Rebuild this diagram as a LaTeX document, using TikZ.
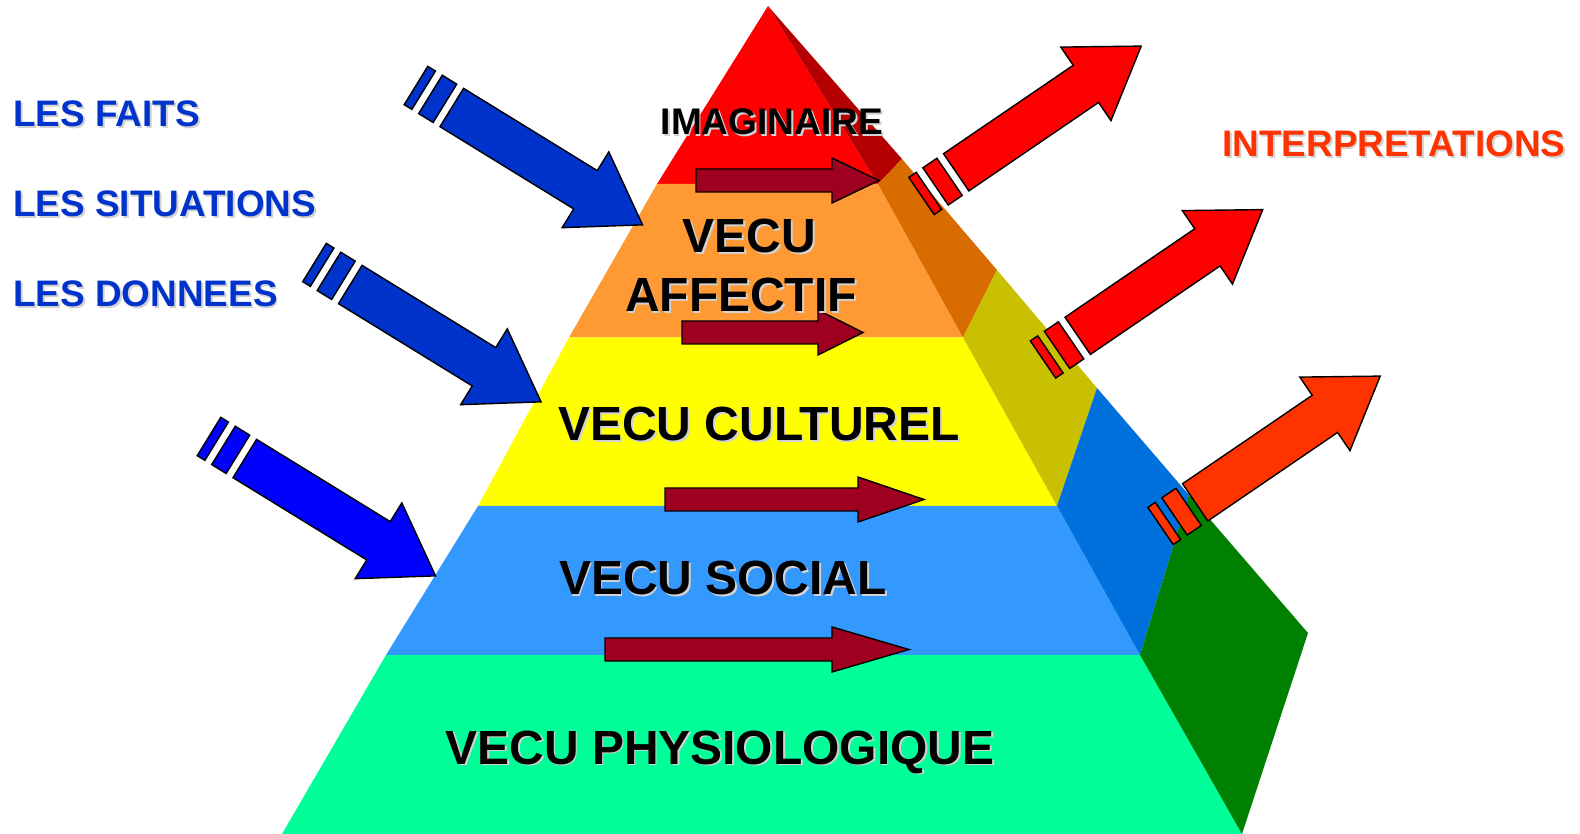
\documentclass[tikz,border=0pt]{standalone}
\usepackage{fontspec}
\setmainfont{Liberation Sans}

\definecolor{imagfront}{RGB}{255,0,0}
\definecolor{imagside}{RGB}{180,0,0}
\definecolor{affectif}{RGB}{255,153,51}
\definecolor{sideaffectif}{RGB}{216,108,0}
\definecolor{culturel}{RGB}{255,255,0}
\definecolor{sideculturel}{RGB}{200,192,0}
\definecolor{social}{RGB}{51,153,255}
\definecolor{sidesocial}{RGB}{0,112,220}
\definecolor{physio}{RGB}{0,255,153}
\definecolor{sidephysio}{RGB}{0,128,0}
\definecolor{flowred}{RGB}{160,0,32}
\definecolor{factblue}{RGB}{0,51,204}
\definecolor{pureblue}{RGB}{0,0,255}
\definecolor{interpred}{RGB}{255,0,0}
\definecolor{interporange}{RGB}{255,51,0}

\tikzset{
layertext/.style = {font = \fontsize{27.3}{32}\selectfont\bfseries, anchor = base,
   inner sep = 0pt},
toptext/.style = {font = \fontsize{21.1}{25}\selectfont\bfseries, anchor = base,
   inner sep = 0pt},
sidetext/.style = {font = \fontsize{21}{25}\selectfont\bfseries, anchor = base west,
   inner sep = 0pt},
flow/.style = {fill = flowred, draw = black, line width = 0.8pt},
feeder/.style = {draw = black, line width = 0.8pt, line join = miter},
pics/feed/.style = {code = {
   \draw [pic actions] (0,-22.5) rectangle (9,22.5);
   \draw [pic actions] (17,-22.5) rectangle (34,22.5);
   \draw [pic actions] (42,-22.5) -- (199,-22.5) -- (199,-44.5) -- (266,0)
      -- (199,44.5) -- (199,22.5) -- (42,22.5) -- cycle;
}}
}

% text with a soft grey shadow: style, name, position, text
\newcommand{\castlabel}[4]{%
   \node [#1, text = gray!35, xshift = 0.035cm, yshift = -0.035cm] at #3 {#4};
   \node [#1] (#2) at #3 {#4};
}

\begin{document}
\begin{tikzpicture}[x = 0.02cm, y = -0.02cm]

\useasboundingbox (0,0) rectangle (1580,834);

%% Corners of the pyramid: front left, front right, outer side edge
\coordinate (apex) at (768,6);
\coordinate (fl1) at (657,184);  \coordinate (fr1) at (878,184);   \coordinate (s1) at (902,159);
\coordinate (fl2) at (569,337.5);\coordinate (fr2) at (963,337.5); \coordinate (s2) at (997,270);
\coordinate (fl3) at (478,506);  \coordinate (fr3) at (1057,506);  \coordinate (s3) at (1097,388);
\coordinate (fl4) at (386,655);  \coordinate (fr4) at (1140,655);  \coordinate (s4) at (1189,495);
\coordinate (fl5) at (282,834);  \coordinate (fr5) at (1242,834);  \coordinate (s5) at (1308,633);

%% Faces
\fill [imagfront] (apex) -- (fr1) -- (fl1) -- cycle;
\fill [imagside] (apex) -- (s1) -- (fr1) -- cycle;
\foreach \a/\b/\col in {1/2/affectif, 2/3/culturel, 3/4/social, 4/5/physio}{
   \fill [\col] (fl\a) -- (fr\a) -- (fr\b) -- (fl\b) -- cycle;
   \fill [side\col] (fr\a) -- (s\a) -- (s\b) -- (fr\b) -- cycle;
}

%% Flows across the levels
\foreach \xa/\xb/\xc/\ym in {696/832/879/180.5, 682/818/863/332.5,
                             665/858/924/499.5, 605/832/909/649.5}
   \draw [flow] (\xa,\ym-11.5) -- (\xb,\ym-11.5) -- (\xb,\ym-22.5) -- (\xc,\ym)
      -- (\xb,\ym+22.5) -- (\xb,\ym+11.5) -- (\xa,\ym+11.5) -- cycle;

%% Incoming and outgoing arrows
\foreach \px/\py/\ang/\col in {416/85.5/-31.6/factblue, 314.5/262.5/-31.6/factblue,
                               209/436.5/-31.6/pureblue, 921.5/196/34.3/interpred,
                               1043/359.5/34.3/interpred, 1160.5/526/34.3/interporange}
   \pic [feeder, fill = \col, rotate = \ang] at (\px,\py) {feed};

%% Levels
\castlabel{toptext}{imaginaire}{(772,135)}{IMAGINAIRE}
\castlabel{layertext}{vecu}{(749.5,253)}{VECU}
\castlabel{layertext}{affectiftext}{(741,312)}{AFFECTIF}
\castlabel{layertext}{culturel}{(759,441)}{VECU CULTUREL}
\castlabel{layertext}{socialtext}{(723,594.5)}{VECU SOCIAL}
\castlabel{layertext}{physiotext}{(720,764)}{VECU PHYSIOLOGIQUE}

%% Inputs and outputs
\castlabel{sidetext, text = factblue}{faits}{(13,127)}{LES FAITS}
\castlabel{sidetext, text = factblue}{situations}{(13,217)}{LES SITUATIONS}
\castlabel{sidetext, text = factblue}{donnees}{(13,307)}{LES DONNEES}
\castlabel{sidetext, text = interporange}{interp}{(1222,157)}{INTERPRETATIONS}

\end{tikzpicture}
\end{document}
